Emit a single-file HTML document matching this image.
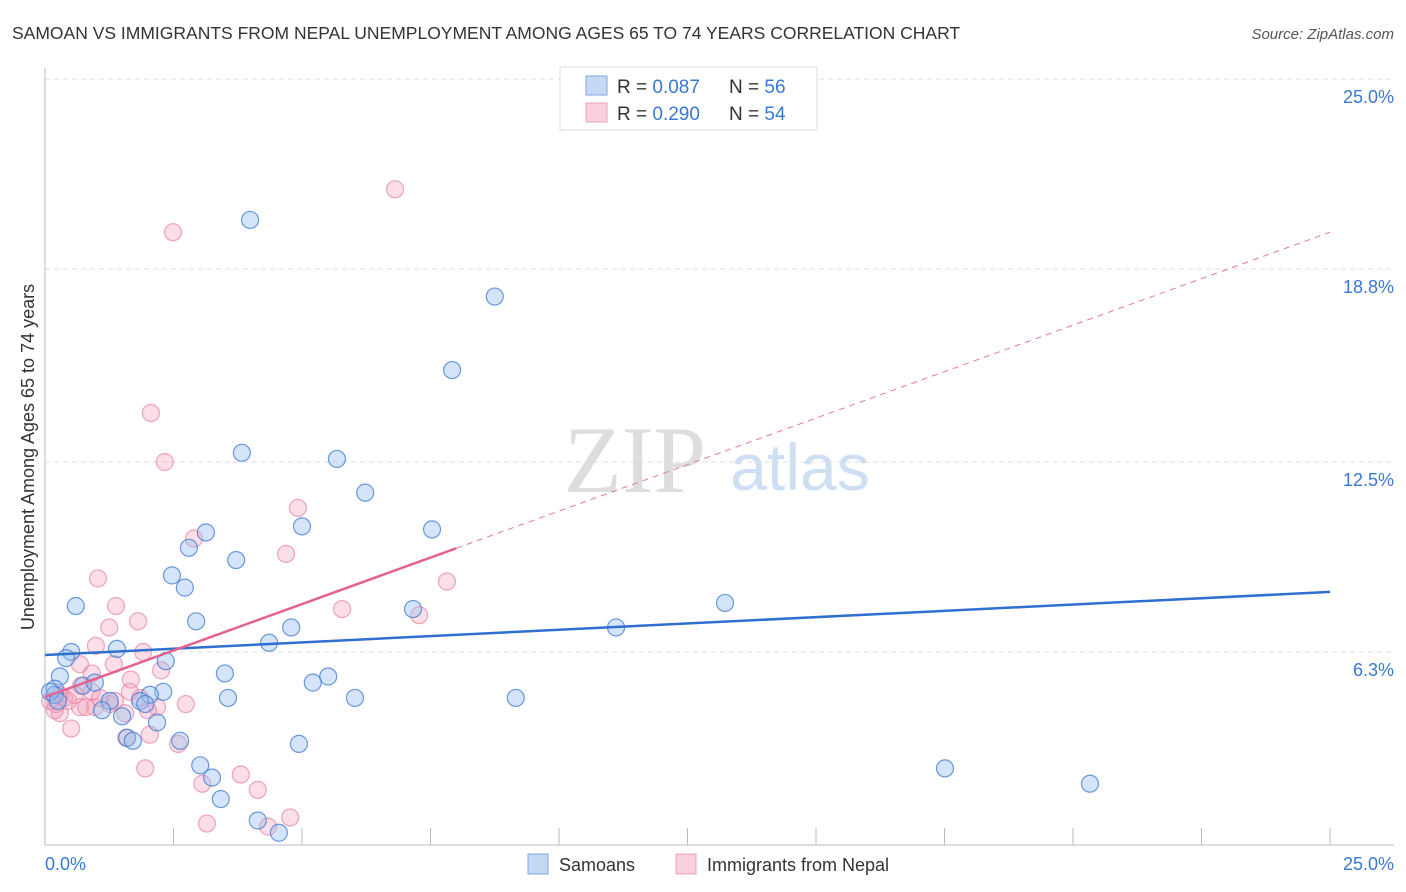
<!DOCTYPE html>
<html><head><meta charset="utf-8"><style>
body{margin:0;background:#fff;font-family:"Liberation Sans",sans-serif}
svg{display:block}
</style></head><body>
<svg id="chart" width="1406" height="892" font-family="Liberation Sans, sans-serif">
<text x="12" y="39" font-size="17.5" fill="#333">SAMOAN VS IMMIGRANTS FROM NEPAL UNEMPLOYMENT AMONG AGES 65 TO 74 YEARS CORRELATION CHART</text>
<text x="1394" y="39" font-size="15" fill="#555" font-style="italic" text-anchor="end">Source: ZipAtlas.com</text>
<text x="635" y="492" font-size="95" fill="#ddd" font-family="Liberation Serif, serif" text-anchor="middle">ZIP</text>
<text x="800" y="490" font-size="66" fill="#cfdff3" text-anchor="middle">atlas</text>
<g id="grid"></g><g id="axes"></g><g id="pts"></g><g id="lines"></g>
<text transform="translate(34,457) rotate(-90)" font-size="18" fill="#333" text-anchor="middle">Unemployment Among Ages 65 to 74 years</text>
<text x="45" y="870" font-size="18" fill="#3a78d4">0.0%</text>
<text x="1394" y="870" font-size="18" fill="#3a78d4" text-anchor="end">25.0%</text>
<g>
<rect x="560" y="67" width="257" height="63" fill="#fff" stroke="#ddd"/>
<rect x="586" y="76" width="21" height="19" fill="#c5d9f5" stroke="#7fa8e0"/>
<rect x="586" y="103" width="21" height="19" fill="#fbd0dd" stroke="#eca0b8"/>
<text x="617" y="93" font-size="19" fill="#333">R = <tspan fill="#3a78d4">0.087</tspan><tspan x="729">N = </tspan><tspan fill="#3a78d4">56</tspan></text>
<text x="617" y="120" font-size="19" fill="#333">R = <tspan fill="#3a78d4">0.290</tspan><tspan x="729">N = </tspan><tspan fill="#3a78d4">54</tspan></text>
</g>
<g>
<rect x="528" y="854" width="20" height="20" fill="#c5d9f5" stroke="#7fa8e0"/>
<text x="559" y="871" font-size="18" fill="#333">Samoans</text>
<rect x="676" y="854" width="20" height="20" fill="#fbd0dd" stroke="#eca0b8"/>
<text x="707" y="871" font-size="18" fill="#333">Immigrants from Nepal</text>
</g>
</svg>
<script>
const yTicks=[25.0,18.8,12.5,6.3];
const yTickLabels=["25.0%","18.8%","12.5%","6.3%"];
const xTicks=[0,2.5,5,7.5,10,12.5,15,17.5,20,22.5,25];
const samoanX=[3.99,8.75,7.92,3.83,5.68,6.23,5.00,7.53,3.13,2.80,3.72,2.47,2.72,2.94,4.79,13.23,11.11,7.16,0.60,4.36,1.40,0.51,0.41,2.35,0.29,3.50,5.51,5.21,0.74,0.97,2.30,2.04,3.56,6.03,9.16,1.85,1.26,1.95,1.11,1.50,2.18,1.60,1.71,2.63,3.02,3.25,4.94,17.51,20.33,3.42,4.14,4.55,0.19,0.19,0.10,0.25];
const samoanY=[20.4,17.9,15.5,12.8,12.6,11.5,10.4,10.3,10.2,9.7,9.3,8.8,8.4,7.3,7.1,7.9,7.1,7.7,7.8,6.6,6.4,6.3,6.1,6.0,5.5,5.6,5.5,5.3,5.2,5.3,5.0,4.9,4.8,4.8,4.8,4.7,4.7,4.6,4.4,4.2,4.0,3.5,3.4,3.4,2.6,2.2,3.3,2.5,2.0,1.5,0.8,0.4,5.1,4.9,5.0,4.7];
const nepalX=[6.81,2.49,2.06,2.33,4.92,2.90,4.69,1.03,7.82,1.38,5.78,7.28,1.25,1.81,0.99,1.91,0.68,1.34,0.91,2.26,0.70,1.67,0.91,0.29,1.65,0.37,1.26,2.74,2.18,0.97,0.68,0.10,0.29,1.56,0.21,0.51,1.58,2.04,2.59,1.95,3.81,3.06,4.14,3.15,4.77,4.34,2.00,0.80,0.45,1.36,0.58,1.85,1.07,0.19];
const nepalY=[21.4,20.0,14.1,12.5,11.0,10.0,9.5,8.7,8.6,7.8,7.7,7.5,7.1,7.3,6.5,6.3,5.9,5.9,5.6,5.7,5.2,5.4,5.0,4.9,5.0,4.8,4.6,4.6,4.5,4.5,4.5,4.7,4.3,4.3,4.6,3.8,3.5,3.6,3.3,2.5,2.3,2.0,1.8,0.7,0.9,0.6,4.4,4.5,4.7,4.7,4.9,4.8,4.8,4.4];
const samoanTrend=[6.2,8.26];
const nepalTrend=[4.83,20.0];
const nepalSolidEnd=8.0;
const X=v=>45+v*51.4, Y=v=>845-v*30.64;
const NS="http://www.w3.org/2000/svg";
function mk(tag,attrs,parent){const e=document.createElementNS(NS,tag);for(const k in attrs)e.setAttribute(k,attrs[k]);parent.appendChild(e);return e;}
const grid=document.getElementById('grid'),axes=document.getElementById('axes'),pts=document.getElementById('pts'),lines=document.getElementById('lines');
yTicks.forEach((t,i)=>{
 const l=mk('line',{x1:45,x2:1394,y1:Y(t),y2:Y(t),stroke:'#ddd','stroke-dasharray':'5,4'},grid);
 
 
 const tx=mk('text',{x:1394,y:Y(t)+24,'font-size':18,fill:'#3a78d4','text-anchor':'end'},grid);
 tx.textContent=yTickLabels[i];
 
 
});
const ya=mk('line',{x1:45,x2:45,y1:68,y2:845,stroke:'#bbb'},axes);


const xa=mk('line',{x1:45,x2:1394,y1:845,y2:845,stroke:'#bbb'},axes);


xTicks.forEach(t=>{
 const l=mk('line',{x1:X(t),x2:X(t),y1:828,y2:845,stroke:'#bbb'},axes);
 
 
});
nepalX.forEach((v,i)=>{
 const c=mk('circle',{cx:X(v),cy:Y(nepalY[i]),r:8.5,fill:'rgba(244,160,185,0.35)',stroke:'rgba(232,130,160,0.7)','stroke-width':1.2},pts);
 
 
});
samoanX.forEach((v,i)=>{
 const c=mk('circle',{cx:X(v),cy:Y(samoanY[i]),r:8.5,fill:'rgba(150,190,240,0.4)',stroke:'rgba(60,120,210,0.75)','stroke-width':1.2},pts);
 
 
});
const nAt=x=>nepalTrend[0]+(nepalTrend[1]-nepalTrend[0])*x/25;
const bl=mk('line',{x1:X(0),y1:Y(samoanTrend[0]),x2:X(25),y2:Y(samoanTrend[1]),stroke:'#2f6fd0','stroke-width':2.5},lines);


const pd=mk('line',{x1:X(nepalSolidEnd),y1:Y(nAt(nepalSolidEnd)),x2:X(25),y2:Y(nepalTrend[1]),stroke:'#e8789c','stroke-width':1,'stroke-dasharray':'6,5'},lines);


const ps=mk('line',{x1:X(0),y1:Y(nepalTrend[0]),x2:X(nepalSolidEnd),y2:Y(nAt(nepalSolidEnd)),stroke:'#e5628f','stroke-width':2.5},lines);


</script>
</body></html>
